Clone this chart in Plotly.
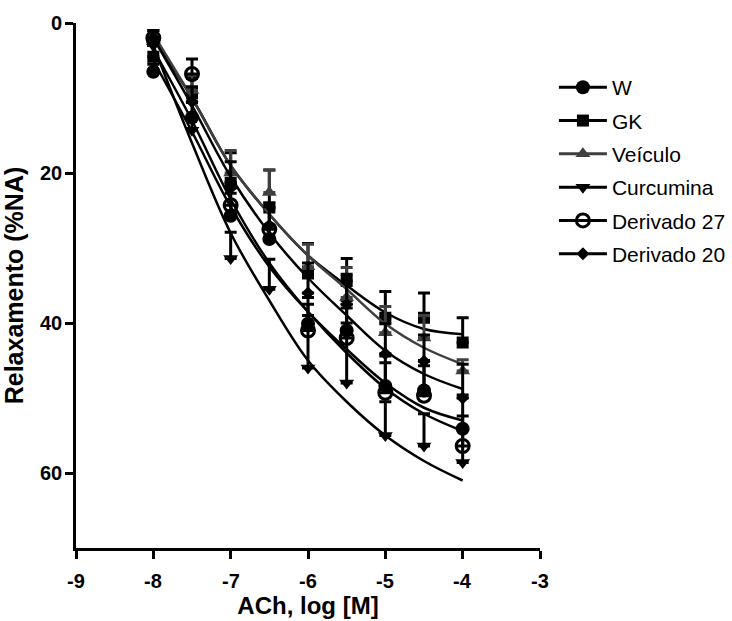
import plotly.graph_objects as go

# ---- data ----
log_ach = [-8, -7.5, -7, -6.5, -6, -5.5, -5, -4.5, -4]

series_names = ["W", "GK", "Veículo", "Curcumina", "Derivado 27", "Derivado 20"]

w_mean = [6.5, 12.6, 25.7, 28.8, 40.1, 41.0, 48.4, 49.0, 54.1]
gk_mean = [4.5, 9.4, 21.3, 24.6, 33.4, 34.4, 39.3, 39.3, 42.6]
veiculo_mean = [2.5, 9.0, 20.0, 22.6, 32.5, 36.6, 41.3, 42.0, 46.4]
curcumina_mean = [3.0, 14.3, 31.4, 35.5, 46.0, 48.0, 55.0, 56.4, 58.6]
d27_mean = [2.0, 6.8, 24.3, 27.5, 41.0, 42.0, 49.3, 49.7, 56.4]
d20_mean = [2.0, 10.5, 22.0, 27.0, 36.0, 37.5, 44.1, 45.1, 50.0]

w_err = [1.0, 2.0, 3.0, 4.0, 3.5, 4.0, 4.0, 4.0, 4.5]
gk_err = [1.5, 2.0, 4.0, 5.0, 4.0, 3.0, 3.5, 3.3, 3.3]
veiculo_err = [1.0, 2.0, 3.0, 3.0, 3.0, 4.0, 3.5, 3.0, 1.5]
curcumina_err = [1.0, 2.0, 3.5, 4.0, 7.0, 8.0, 4.5, 4.3, 4.5]
d27_err = [1.0, 2.0, 3.0, 3.0, 3.5, 4.0, 4.0, 4.0, 4.0]
d20_err = [1.0, 2.0, 3.5, 3.0, 4.0, 4.0, 4.0, 3.5, 4.5]

# fitted curves
w_fit = [5.0, 14.5, 24.5, 32.5, 38.5, 43.5, 48.0, 51.3, 53.0]
gk_fit = [2.0, 10.0, 19.0, 25.5, 31.0, 35.0, 38.6, 40.8, 41.5]
veiculo_fit = [1.5, 10.0, 19.0, 25.5, 31.0, 35.5, 40.1, 43.3, 45.5]
curcumina_fit = [3.0, 16.0, 28.0, 37.0, 45.0, 50.5, 55.0, 58.4, 61.0]
d27_fit = [3.5, 13.0, 23.5, 32.0, 38.5, 44.0, 48.7, 52.1, 54.4]
d20_fit = [2.0, 11.0, 20.5, 28.0, 34.0, 39.0, 43.7, 46.8, 48.8]

x_ticks = [-9, -8, -7, -6, -5, -4, -3]
y_ticks = [0, 20, 40, 60]

# ---- styles ----
means = [w_mean, gk_mean, veiculo_mean, curcumina_mean, d27_mean, d20_mean]
errs = [w_err, gk_err, veiculo_err, curcumina_err, d27_err, d20_err]
fits = [w_fit, gk_fit, veiculo_fit, curcumina_fit, d27_fit, d20_fit]
colors = ["#000000", "#000000", "#3f3f3f", "#000000", "#000000", "#000000"]
symbols = ["circle", "square", "triangle-up", "triangle-down", "circle-open", "diamond"]
sizes = [14, 12, 13, 13, 13, 10]

FONT = "Liberation Sans, Arial, sans-serif"
TICK_SIZE = 20

fig = go.Figure()
for name, m, e, f, c, s, sz in zip(series_names, means, errs, fits, colors, symbols, sizes):
    mline = dict(width=3, color=c) if s.endswith("open") else dict(width=0)
    # fitted curve
    fig.add_trace(go.Scatter(
        x=log_ach, y=f, mode="lines", line=dict(color=c, width=2.5, shape="spline"),
        showlegend=False, hoverinfo="skip", legendgroup=name))
    # points with error bars
    fig.add_trace(go.Scatter(
        x=log_ach, y=m, mode="markers",
        marker=dict(symbol=s, size=sz, color=c, line=mline),
        error_y=dict(type="data", symmetric=False, array=[0] * len(e), arrayminus=e,
                     color=c, thickness=3, width=6),
        showlegend=False, legendgroup=name, name=name))
    # legend entry
    fig.add_trace(go.Scatter(
        x=[None], y=[None], mode="lines+markers", name=name, legendgroup=name,
        line=dict(color=c, width=3),
        marker=dict(symbol=s, size=sz, color=c, line=mline)))

# bold tick labels (as annotations anchored to the axis values)
annotations = []
for v in x_ticks:
    annotations.append(dict(x=v, xref="x", y=0, yref="paper", yshift=-20,
                            text="<b>%d</b>" % v, showarrow=False, xanchor="center", yanchor="top",
                            font=dict(size=TICK_SIZE, family=FONT, color="black")))
for v in y_ticks:
    annotations.append(dict(x=0, xref="paper", xshift=-12, y=v, yref="y",
                            text="<b>%d</b>" % v, showarrow=False, xanchor="right", yanchor="middle",
                            font=dict(size=TICK_SIZE, family=FONT, color="black")))

fig.update_layout(
    width=732, height=621,
    margin=dict(l=76, r=192, t=23, b=73, autoexpand=False),
    plot_bgcolor="white", paper_bgcolor="white",
    font=dict(family=FONT, color="black"),
    showlegend=True,
    annotations=annotations,
    legend=dict(x=1.03, y=0.916, xanchor="left", yanchor="top",
                font=dict(size=21, family=FONT, color="black"),
                tracegroupgap=3, itemwidth=48, bgcolor="rgba(0,0,0,0)"),
    xaxis=dict(range=[-9, -3], tickvals=x_ticks, showticklabels=False,
               automargin=False,
               showgrid=False, zeroline=False, showline=True, linecolor="black", linewidth=3,
               ticks="outside", ticklen=8, tickwidth=2.5, tickcolor="black",
               title=dict(text="<b>ACh, log [M]</b>", font=dict(size=24, family=FONT, color="black"),
                          standoff=40)),
    yaxis=dict(range=[70, 0], tickvals=y_ticks, showticklabels=False,
               automargin=False,
               showgrid=False, zeroline=False, showline=True, linecolor="black", linewidth=3,
               ticks="outside", ticklen=8, tickwidth=2.5, tickcolor="black",
               title=dict(text="<b>Relaxamento (%NA)</b>", font=dict(size=25, family=FONT, color="black"),
                          standoff=40)),
)

fig.write_html("out.html", config={"displayModeBar": False},
               post_script="document.body.style.margin='0';")
